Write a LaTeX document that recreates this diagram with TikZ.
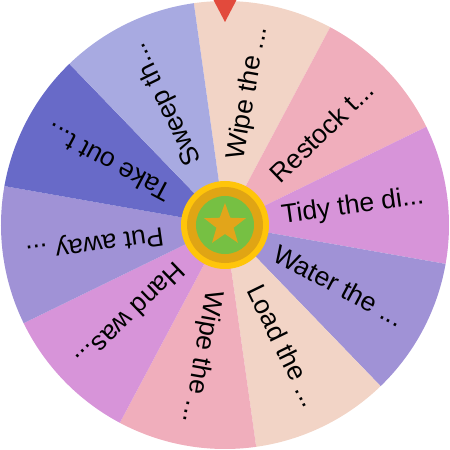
\documentclass[tikz,border=0pt]{standalone}
\usepackage{fontspec}
\setmainfont{Liberation Sans}
\definecolor{cPeach}{RGB}{242,212,198}
\definecolor{cPink}{RGB}{240,174,188}
\definecolor{cOrchid}{RGB}{215,148,217}
\definecolor{cLav}{RGB}{160,146,214}
\definecolor{cIndigo}{RGB}{104,106,200}
\definecolor{cPeri}{RGB}{168,170,225}
\definecolor{cHubOuter}{RGB}{255,197,10}
\definecolor{cHubRing}{RGB}{224,165,20}
\definecolor{cHubGreen}{RGB}{118,192,67}
\definecolor{cStar}{RGB}{226,165,26}
\definecolor{cPointer}{RGB}{226,74,60}
\tikzset{
  seglabel/.style={anchor=east, inner sep=0pt, font=\fontsize{26.5}{30}\selectfont, text=black},
  hubdisc/.style={circle, inner sep=0pt},
}
\begin{document}
\begin{tikzpicture}[x=1pt,y=1pt]
\useasboundingbox (-225,-225) rectangle (225,225);
\def\R{224}
\foreach \i/\col in {0/cPeach,1/cPink,2/cOrchid,3/cLav,4/cPeach,5/cPink,6/cOrchid,7/cLav,8/cIndigo,9/cPeri}{
  \pgfmathsetmacro{\a}{80-36*\i}
  \fill[\col] (0,0) -- (\a-18:\R) arc[start angle=\a-18, end angle=\a+18, radius=\R] -- cycle;
}
\foreach \i/\txt in {0/{Wipe the ...},1/{Restock t...},2/{Tidy the di...},3/{Water the ...},4/{Load the ...},5/{Wipe the ...},6/{Hand was...},7/{Put away ...},8/{Take out t...},9/{Sweep th...}}{
  \pgfmathsetmacro{\a}{80-36*\i}
  \node[seglabel, rotate=\a] (lbl\i) at (\a:201) {\txt};
}
\node[hubdisc, fill=cHubOuter, minimum size=88pt] (hubouter) at (0,0) {};
\node[hubdisc, fill=cHubRing, minimum size=76pt] (hubring) at (0,0) {};
\node[hubdisc, fill=cHubGreen, minimum size=58pt] (hubgreen) at (0,0) {};
\fill[cStar] (90:22) -- (126:9) -- (162:22) -- (198:9) -- (234:22) -- (270:9)
  -- (306:22) -- (342:9) -- (18:22) -- (54:9) -- cycle;
\coordinate (pl) at (-11.5,225);
\coordinate (pr) at (11.5,225);
\coordinate (pt) at (0,203);
\fill[cPointer] (pl) -- (pr) -- (pt) -- cycle;
\end{tikzpicture}
\end{document}
